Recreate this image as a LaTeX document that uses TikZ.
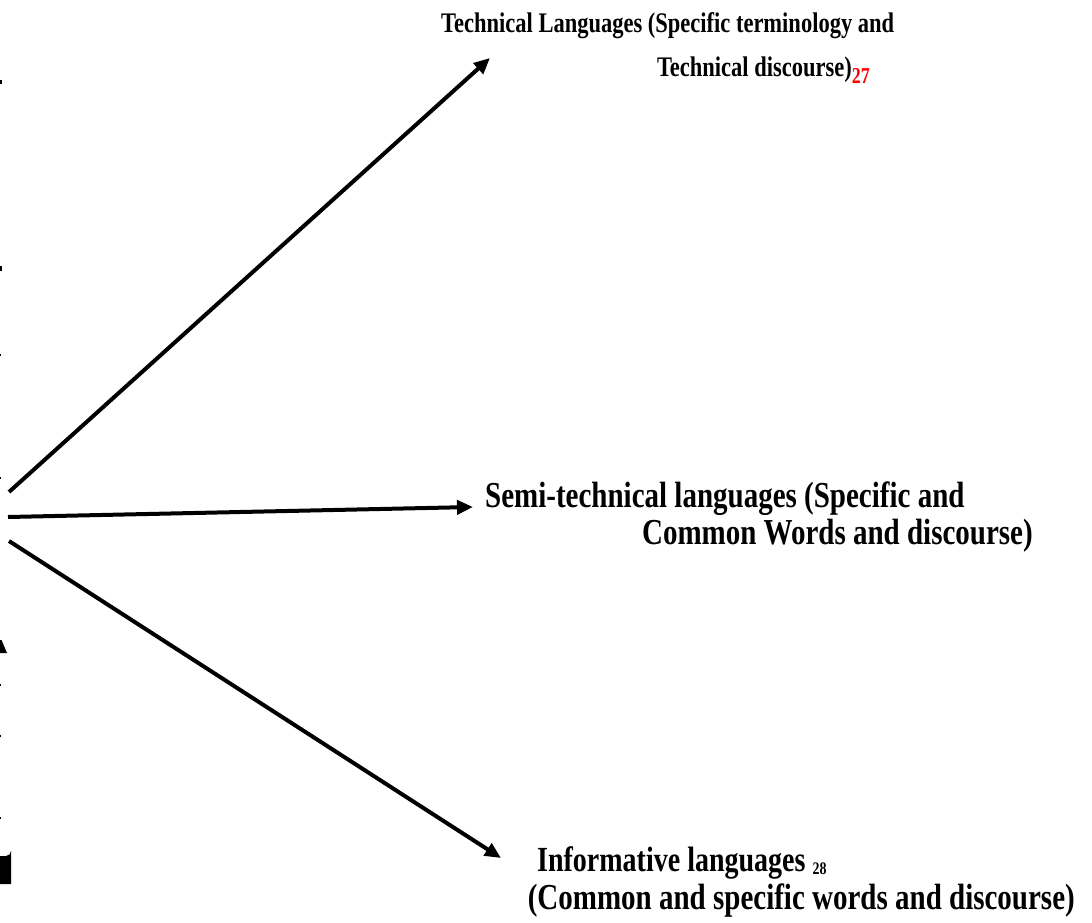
\documentclass[tikz,border=0pt]{standalone}
\usepackage{fontspec}
\setmainfont{Liberation Serif}
\usetikzlibrary{arrows.meta}
\newcommand{\tallbox}[1]{\scalebox{1}[1.26]{#1}}
\newcommand{\refnum}[4]{\raisebox{#1}{\fontsize{#2}{#2}\selectfont\textcolor{#3}{#4}}}
\begin{document}
\begin{tikzpicture}[x=1pt,y=-1pt,
  label text/.style={inner sep=0pt, font=\bfseries\fontsize{29}{34}\selectfont},
  small label/.style={inner sep=0pt, font=\bfseries\fontsize{22.5}{27}\selectfont},
  branch/.style={line width=4pt, -{Triangle[length=16pt,width=14pt]}},
  fragment/.style={fill=black, draw=none}]
\useasboundingbox (0,0) rectangle (1092,923);

% branch labels
\node[small label, anchor=base west] (tech1) at (441,33)
  {\tallbox{Technical Languages (Specific terminology and}};
\node[small label, anchor=base east] (tech2) at (870,77)
  {\tallbox{Technical discourse)\refnum{-5pt}{18}{red}{27}}};
\node[label text, anchor=base west] (semi1) at (485,507)
  {\tallbox{Semi-technical languages (Specific and}};
\node[label text, anchor=base east] (semi2) at (1033,544)
  {\tallbox{Common Words and discourse)}};
\node[label text, anchor=base west, font=\bfseries\fontsize{28}{33}\selectfont] (info1) at (537,871)
  {\tallbox{Informative languages \refnum{-2.5pt}{14}{black}{28}}};
\node[label text, anchor=base east] (info2) at (1075,909)
  {\tallbox{(Common and specific words and discourse)}};

% arrow ends
\coordinate (s1) at (9,492);
\coordinate (s2) at (8,517);
\coordinate (s3) at (9,541);
\coordinate (t1) at (490,58);
\coordinate (t2) at (473,507);
\coordinate (t3) at (501,858);

\draw[branch] (s1) -- (t1);
\draw[branch] (s2) -- (t2);
\draw[branch] (s3) -- (t3);

% clipped lettering along the left edge
\fill[fragment] (0,80) rectangle (1.6,84);
\fill[fragment] (0,266) rectangle (1.6,271);
\fill[fragment] (0,354) rectangle (1,356);
\fill[fragment] (0,477) rectangle (1,479);
\fill[fragment] (0,640) -- (1.5,640) -- (7,653) -- (0,653) -- cycle;
\fill[fragment] (0,684) rectangle (1,686);
\fill[fragment] (0,735) rectangle (1,737);
\fill[fragment] (0,817) rectangle (1,819);
\fill[fragment] (0,856) -- (6,856) arc[start angle=90, end angle=0, radius=5] -- (11,884) -- (0,884) -- cycle;
\end{tikzpicture}
\end{document}
